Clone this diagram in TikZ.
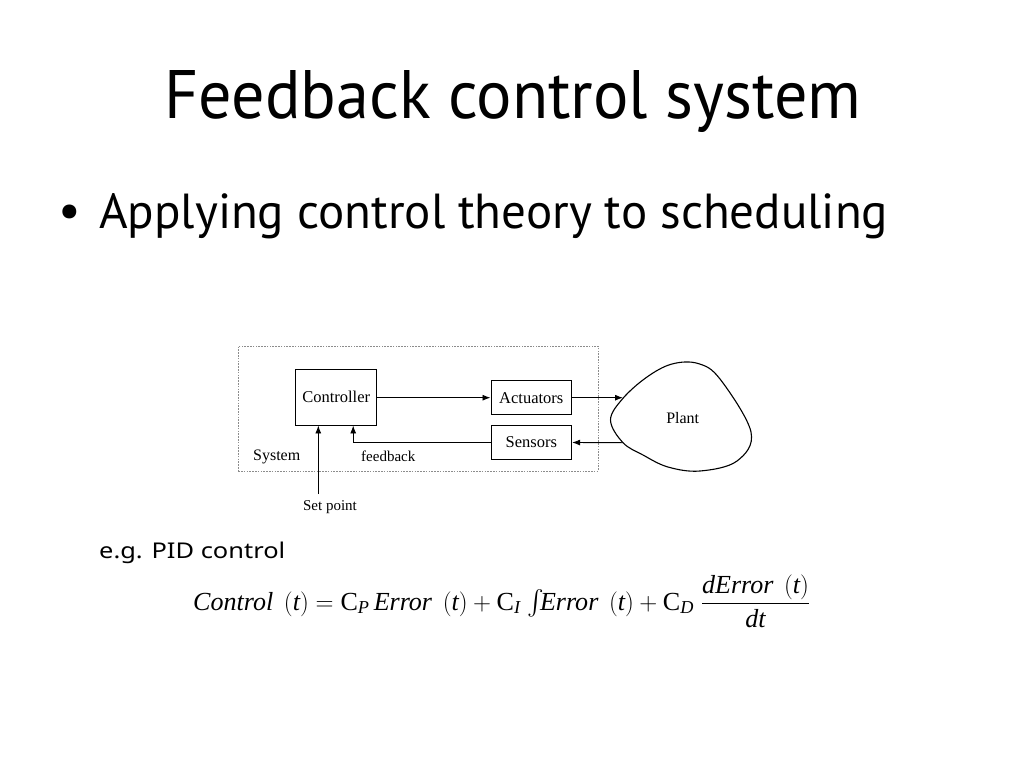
\documentclass[tikz,border=0pt]{standalone}
\usepackage{amsmath}
\usepackage{fontspec}
\setmainfont{Liberation Serif}
\newfontfamily\slidefont{PT Sans}
\newfontfamily\egfont{Noto Sans}
\usetikzlibrary{arrows.meta}
\newcommand\mi[1]{\text{\itshape #1}}
\begin{document}
\begin{tikzpicture}[x=1pt,y=-1pt,
  blk/.style={draw, line width=0.9pt, inner sep=0pt, font=\fontsize{16.5}{18}\selectfont},
  lbl/.style={inner sep=0pt, font=\fontsize{16}{18}\selectfont},
  smalllbl/.style={inner sep=0pt, font=\fontsize{15}{17}\selectfont},
  arr/.style={line width=0.9pt, -{Latex[length=8pt,width=6pt]}},
  sysbox/.style={draw=black!45, line width=0.8pt, dash pattern=on 1.6pt off 1.2pt, inner sep=0pt},
  plantline/.style={line width=1.1pt}
]
\fill[white] (0,0) rectangle (1024,768);
\useasboundingbox (0,0) rectangle (1024,768);

% title and bullet
\node[anchor=base west, inner sep=0pt] (title) at (164,118)
  {\resizebox{697pt}{48pt}{\slidefont Feedback control system}};
\node[anchor=base, inner sep=0pt] (bullet) at (70,227)
  {\slidefont\fontsize{50}{50}\selectfont •};
\node[anchor=base west, inner sep=0pt] (point) at (99,228)
  {\resizebox{789pt}{35pt}{\slidefont Applying control theory to scheduling}};

% system box
\node[sysbox, minimum width=360pt, minimum height=125pt] (sys) at (418.2,408.5) {};

% blocks
\node[blk, minimum width=81pt, minimum height=56pt] (ctrl) at (336.2,397) {Controller};
\node[blk, minimum width=80.7pt, minimum height=34pt] (act) at (531.3,397.7) {Actuators};
\node[blk, minimum width=80.7pt, minimum height=33.6pt] (sen) at (531.3,442.5) {Sensors};

% plant
\draw[plantline] plot[smooth cycle, tension=0.6] coordinates {
  (623,398.3) (647,377) (672,364) (698,363.5) (720,379)
  (751,432) (737,461) (700,471) (668,467) (643,455)
  (623,442.7) (610.5,420)};
\node[lbl] (plant) at (682.7,418.3) {Plant};
\coordinate (pin) at (623,397.7);
\coordinate (pout) at (623,442.7);

% labels
\node[lbl] (syslbl) at (276.7,456.5) {System};
\node[smalllbl] (fblbl) at (388.3,456.5) {feedback};
\node[smalllbl] (sp) at (330,507.5) {Set point};
\coordinate (spt) at (318.3,494);

% connectors
\draw[arr] (ctrl.east |- act.west) -- (act.west);
\draw[arr] (act.east) -- (pin);
\draw[arr] (pout) -- (sen.east);
\draw[arr] (sen.west) -| ([xshift=17pt]ctrl.south);
\draw[arr] (spt) -- (spt |- ctrl.south);

% example
\node[anchor=base west, inner sep=0pt] (eg) at (99,558.3)
  {\resizebox{186pt}{16.5pt}{\egfont e.g. PID control}};

\node[anchor=base west, inner sep=0pt] (eq) at (193,610)
  {\resizebox{617pt}{!}{\fontsize{26}{30}\selectfont
   $\mi{Control}\ \,(\mi{t}) = \text{C}_{\mi{P}}\,\mi{Error}\ \,(\mi{t}) + \text{C}_{\mi{I}}\;{\textstyle\int}\!\mi{Error}\ \,(\mi{t}) + \text{C}_{\mi{D}}\;\dfrac{\mi{dError}\ \,(\mi{t})}{\mi{dt}}$}};
\end{tikzpicture}
\end{document}
